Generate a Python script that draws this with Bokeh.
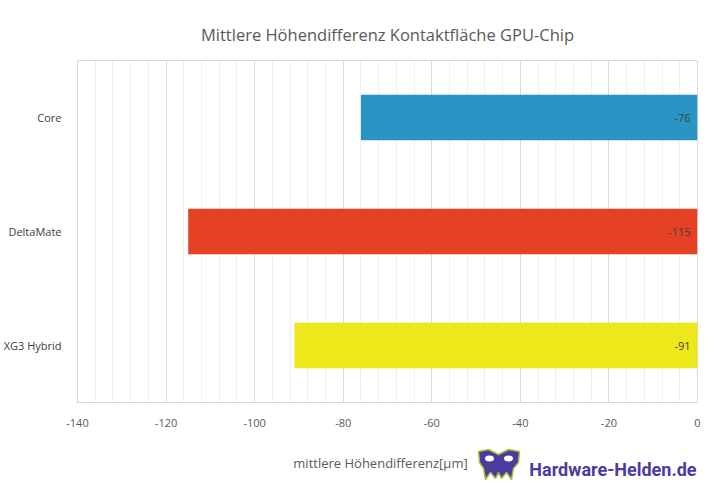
from bokeh.plotting import figure
from bokeh.models import ColumnDataSource, SingleIntervalTicker, Range1d, FactorRange, CustomJSTickFormatter
from bokeh.layouts import column
from bokeh.core.properties import value
from bokeh.embed import file_html
from bokeh.resources import INLINE

categories = ["Core", "DeltaMate", "XG3 Hybrid"]
values = [-76, -115, -91]
colors = ["#2A95C5", "#E54125", "#ECE81A"]
labels = ["-76", "-115", "-91"]

title_text = "Mittlere Höhendifferenz Kontaktfläche GPU-Chip"
x_title = "mittlere Höhendifferenz[µm]"
logo_text = "Hardware-Helden.de"

FONT = "Open Sans"

src = ColumnDataSource(dict(cat=categories, val=values, color=colors, lab=labels, zero=[0] * len(values)))

p = figure(width=708, height=430, output_backend="svg", toolbar_location=None,
           y_range=FactorRange(*categories[::-1], range_padding=0), x_range=Range1d(-140, 0),
           min_border_left=77, min_border_right=11, min_border_top=60, min_border_bottom=28)

p.hbar(y="cat", left="val", right="zero", height=0.4, fill_color="color", line_color=None, source=src)
p.text(x="zero", y="cat", text="lab", source=src, x_offset=-7, text_align="right", text_baseline="middle",
       text_font=value(FONT), text_font_size="11px", text_color="#404040")

p.title.text = title_text
p.title.align = "center"
p.title.text_font = FONT
p.title.text_font_size = "16.5px"
p.title.text_font_style = "normal"
p.title.text_color = "#595959"
p.title.offset = 0
p.title.standoff = 30

p.xaxis.ticker = SingleIntervalTicker(interval=20, num_minor_ticks=5)
p.xaxis.formatter = CustomJSTickFormatter(code="return tick.toString();")
p.xaxis.axis_line_color = None
p.xaxis.major_tick_line_color = None
p.xaxis.minor_tick_line_color = None
p.xaxis.major_label_text_font = FONT
p.xaxis.major_label_text_font_size = "11px"
p.xaxis.major_label_text_color = "#595959"
p.xaxis.major_label_standoff = 10

p.yaxis.axis_line_color = None
p.yaxis.major_tick_line_color = None
p.yaxis.minor_tick_line_color = None
p.yaxis.major_label_text_font = FONT
p.yaxis.major_label_text_font_size = "11px"
p.yaxis.major_label_text_color = "#404040"
p.yaxis.major_label_standoff = 10

p.xgrid.grid_line_color = "#D9D9D9"
p.xgrid.minor_grid_line_color = "#F0F0F0"
p.ygrid.grid_line_color = None
p.outline_line_color = "#D9D9D9"

# footer strip: axis title + logo (frame aligned with the main plot frame, x in page pixels)
f = figure(width=708, height=51, output_backend="svg", toolbar_location=None,
           x_range=Range1d(77, 697), y_range=Range1d(0, 51),
           min_border_left=0, min_border_right=0, min_border_top=0, min_border_bottom=0)
f.axis.visible = False
f.grid.visible = False
f.outline_line_color = None

f.text(x=[380], y=[19], text=[x_title], text_align="center", text_baseline="middle",
       text_font=value(FONT), text_font_size="13px", text_color="#595959")

mask_x = [478, 488, 498, 508, 519, 518, 513, 511, 506, 501, 498, 495, 490, 485, 483, 479]
mask_y = [30, 32, 27, 32, 30, 19, 13, 2, 9, 3, 9, 3, 9, 2, 13, 19]
f.patch(mask_x, mask_y, fill_color="#4B3B9E", line_color="#A9C23A", line_width=1.5)
f.ellipse(x=[489, 508], y=[23, 23], width=9, height=6, fill_color="white", line_color=None)
f.text(x=[696], y=[12], text=[logo_text], text_align="right", text_baseline="middle",
       text_font=value("Roboto"), text_font_size="18px", text_font_style="bold", text_color="#4B3B9E")

layout = column(p, f, spacing=0)
open("out.html", "w").write(file_html(layout, INLINE))
